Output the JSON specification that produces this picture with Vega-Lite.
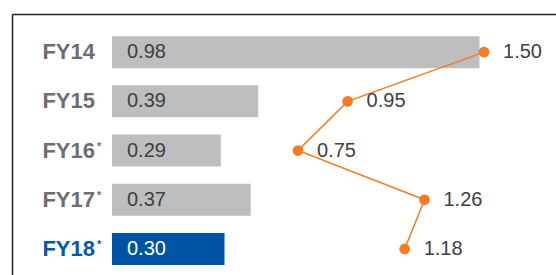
{
  "$schema": "https://vega.github.io/schema/vega-lite/v6.json",
  "width": 544,
  "height": 261,
  "autosize": {"type": "none"},
  "padding": {"left": 12, "top": 14, "right": 0, "bottom": 0},
  "background": "white",
  "config": {
    "view": {"stroke": null},
    "font": "Liberation Sans",
    "axis": {"labels": false, "ticks": false, "grid": false, "title": null, "domainColor": "#231f20", "domainWidth": 1.5}
  },
  "data": {
    "values": [
      {"fy": "FY14", "v": 0.98, "r": 1.50, "star": ""},
      {"fy": "FY15", "v": 0.39, "r": 0.95, "star": ""},
      {"fy": "FY16", "v": 0.29, "r": 0.75, "star": "*"},
      {"fy": "FY17", "v": 0.37, "r": 1.26, "star": "*"},
      {"fy": "FY18", "v": 0.30, "r": 1.18, "star": "*"}
    ]
  },
  "encoding": {
    "y": {"field": "fy", "type": "nominal", "sort": null,
      "scale": {"paddingInner": 0.35, "paddingOuter": 0.3275, "align": 0.6875},
      "axis": {"orient": "left"}}
  },
  "layer": [
    {
      "encoding": {
        "x": {"type": "quantitative", "scale": {"domain": [0, 1], "range": [100, 475], "zero": false}, "axis": null}
      },
      "layer": [
        {
          "mark": {"type": "bar"},
          "encoding": {
            "x": {"field": "v", "type": "quantitative"},
            "color": {"condition": {"test": "datum.fy === 'FY18'", "value": "#0054a6"}, "value": "#bcbec0"}
          }
        },
        {
          "mark": {"type": "text", "align": "left", "baseline": "middle", "dx": 15, "fontSize": 20},
          "encoding": {
            "x": {"datum": 0, "type": "quantitative"},
            "text": {"field": "v", "type": "quantitative", "format": ".2f"},
            "color": {"condition": {"test": "datum.fy === 'FY18'", "value": "#ffffff"}, "value": "#414042"}
          }
        },
        {
          "mark": {"type": "text", "align": "right", "baseline": "middle", "dx": -17, "fontSize": 22, "fontWeight": "bold"},
          "encoding": {
            "x": {"datum": 0, "type": "quantitative"},
            "text": {"field": "fy"},
            "color": {"condition": {"test": "datum.fy === 'FY18'", "value": "#0a56a5"}, "value": "#6d6e71"}
          }
        },
        {
          "mark": {"type": "text", "align": "left", "baseline": "top", "dx": -15, "dy": -10, "fontSize": 11, "fontWeight": "bold"},
          "encoding": {
            "x": {"datum": 0, "type": "quantitative"},
            "text": {"field": "star"},
            "color": {"condition": {"test": "datum.fy === 'FY18'", "value": "#0a56a5"}, "value": "#6d6e71"}
          }
        }
      ]
    },
    {
      "encoding": {
        "x": {"field": "r", "type": "quantitative", "scale": {"domain": [-0.4032, 1.7903], "zero": false, "nice": false}, "axis": {"orient": "top"}}
      },
      "layer": [
        {
          "mark": {"type": "line", "color": "#f47b20", "strokeWidth": 1.5},
          "encoding": {"order": {"field": "fy"}}
        },
        {
          "mark": {"type": "point", "filled": true, "size": 115, "color": "#f47b20", "opacity": 1}
        },
        {
          "mark": {"type": "text", "align": "left", "baseline": "middle", "dx": 19, "fontSize": 20, "color": "#414042"},
          "encoding": {"text": {"field": "r", "type": "quantitative", "format": ".2f"}}
        }
      ]
    }
  ],
  "resolve": {"scale": {"x": "independent"}}
}
